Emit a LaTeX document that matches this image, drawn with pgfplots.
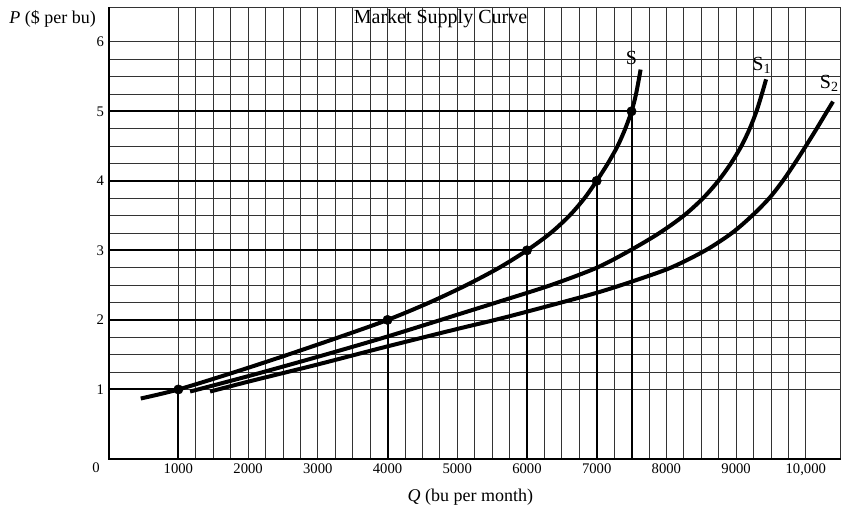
\documentclass[border=0pt]{standalone}
\usepackage{fontspec}
\setmainfont{Liberation Serif}
\usepackage{pgfplots}
\pgfplotsset{compat=1.18}
\begin{document}
\begin{tikzpicture}
\useasboundingbox (0,0) rectangle (630.75pt,385.5pt);
\begin{axis}[
  at={(81.5pt,41.25pt)}, anchor=south west,
  width=549pt, height=339pt, scale only axis,
  xmin=0, xmax=10500, ymin=0, ymax=6.5,
  xtick={1000,2000,3000,4000,5000,6000,7000,8000,9000,10000},
  xticklabels={1000,2000,3000,4000,5000,6000,7000,8000,9000,{10,000}},
  scaled x ticks=false,
  ytick={1,2,3,4,5,6},
  minor x tick num=3, minor y tick num=3,
  grid=both,
  major grid style={black!80, line width=0.6pt},
  minor grid style={black!80, line width=0.6pt},
  tick style={draw=none},
  axis line style={black!80, line width=0.6pt},
  /pgf/number format/assume math mode=true,
  ticklabel style={font=\fontsize{11}{12}\selectfont},
  clip=false,
]

% drop lines
\addplot[black, line width=1.5pt, mark=none] coordinates {(0,1) (1000,1) (1000,0)};
\addplot[black, line width=1.5pt, mark=none] coordinates {(0,2) (4000,2) (4000,0)};
\addplot[black, line width=1.5pt, mark=none] coordinates {(0,3) (6000,3) (6000,0)};
\addplot[black, line width=1.5pt, mark=none] coordinates {(0,4) (7000,4) (7000,0)};
\addplot[black, line width=1.5pt, mark=none] coordinates {(0,5) (7500,5) (7500,0)};

% S
\addplot[black, line width=3pt, smooth, mark=none] coordinates {
  (460,0.87) (1000,1.0) (1810,1.25) (2570,1.5) (3300,1.75) (4000,2.0)
  (4600,2.25) (5130,2.5) (5600,2.75) (6000,3.0) (6340,3.25) (6610,3.5)
  (6825,3.75) (7000,4.0) (7160,4.25) (7300,4.5) (7410,4.75) (7500,5.0)
  (7565,5.25) (7630,5.6)
};
% S1
\addplot[black, line width=3pt, smooth, mark=none] coordinates {
  (1168,0.97) (2033,1.20) (3000,1.47) (3994,1.76) (5144,2.12) (5622,2.27)
  (6341,2.50) (7000,2.75) (7480,3.0) (7900,3.25) (8250,3.5) (8525,3.75)
  (8745,4.0) (8925,4.25) (9075,4.5) (9195,4.75) (9292,5.0) (9370,5.25)
  (9430,5.46)
};
% S2
\addplot[black, line width=3pt, smooth, mark=none] coordinates {
  (1455,0.97) (2033,1.12) (3000,1.36) (4000,1.62) (5000,1.87) (5622,2.02)
  (6341,2.21) (7000,2.39) (7500,2.55) (8060,2.75) (8560,3.0) (8940,3.25)
  (9230,3.5) (9475,3.75) (9670,4.0) (9840,4.25) (10000,4.5) (10155,4.75)
  (10305,5.0) (10390,5.14)
};

% points on S
\addplot[black, only marks, mark=*, mark size=3.5pt] coordinates {
  (1000,1) (4000,2) (6000,3) (7000,4) (7500,5)
};

\draw[black, line width=1.5pt] (rel axis cs:0,1) -- (rel axis cs:0,0) -- (rel axis cs:1,0);

\node[font=\fontsize{15}{17}\selectfont] at (axis cs:4760,6.33) {Market Supply Curve};
\node[font=\fontsize{15}{17}\selectfont] at (axis cs:7500,5.76) {S};
\node[font=\fontsize{15}{17}\selectfont] at (axis cs:9369,5.66) {S\textsubscript{1}};
\node[font=\fontsize{15}{17}\selectfont] at (axis cs:10338,5.40) {S\textsubscript{2}};
\node[font=\fontsize{11}{12}\selectfont] at (axis cs:0,0) [xshift=-9.5pt, yshift=-6.75pt] {0};
\node[font=\fontsize{13.5}{16}\selectfont, anchor=east] at (axis cs:0,6.33) [xshift=-6pt] {\textit{P} (\$ per bu)};
\node[font=\fontsize{13.5}{16}\selectfont] at (rel axis cs:0.494,0) [yshift=-28.5pt] {\textit{Q} (bu per month)};
\end{axis}
\end{tikzpicture}
\end{document}
